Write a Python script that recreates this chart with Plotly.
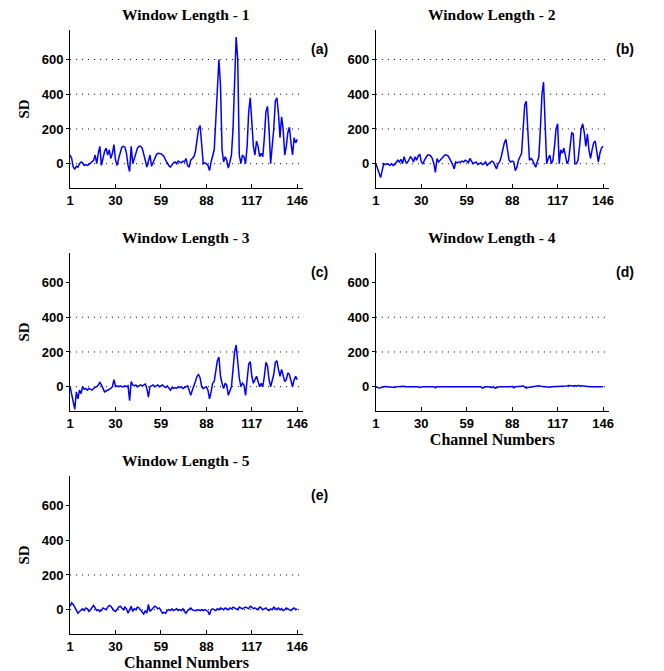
import plotly.graph_objects as go
from plotly.subplots import make_subplots

channels = list(range(1, 147))

sd_w1 = [
    50, 30, -20, -30, -15, -20, 0, 10, 5, -10,
    -5, -10, -5, 5, 15, 20, 50, 0, 60, 100,
    -10, 40, 70, 90, 50, 80, 30, 60, 110, 20,
    -10, 30, 70, 95, 100, 95, 60, -10, -45, 100,
    0, 30, 70, 90, 100, 100, 90, 60, 20, -20,
    10, 50, -15, 10, 35, 50, 60, 60, 58, 50,
    40, 20, 0, -10, -20, -5, 5, 10, 0, 15,
    10, 5, 15, 10, 30, -10, -20, 20, 30, 40,
    70, 150, 200, 220, 100, 0, 5, 0, -10, -40,
    10, 40, 80, 250, 450, 600, 450, 80, 10, 40,
    20, -25, 10, 50, 200, 500, 730, 600, 50, 0,
    50, 40, 0, 100, 300, 380, 250, 100, 50, 130,
    100, 40, 60, 40, 150, 300, 330, 200, 0, 100,
    200, 360, 380, 290, 150, 270, 200, 50, 100, 180,
    210, 120, 50, 150, 120, 140,
]

sd_w2 = [
    0, -30, -60, -80, -40, 0, -5, 0, -5, -10,
    0, -10, -5, 10, 20, 10, 25, 0, 40, 10,
    5, 20, 40, 30, 10, 40, 20, 45, 55, 10,
    0, 20, 40, 50, 50, 45, 30, 0, -50, 30,
    10, 20, 35, 45, 50, 50, 45, 30, 15, -5,
    -30, 10, 5, 10, 10, 15, 10, 20, 15, 5,
    30, 10, 0, 5, 10, -5, 0, 5, -5, 0,
    10, -10, 0, 5, 15, 10, -10, -30, 0, 10,
    40, 80, 120, 140, 80, 20, 10, 15, 10, -40,
    -20, 20, 40, 60, 200, 340, 360, 200, 20, 30,
    20, 0, -20, 10, 40, 200, 400, 470, 200, 0,
    30, 50, 0, 20, 100, 200, 230, 0, 80, 60,
    90, 40, 0, 20, 100, 180, 170, 0, 0, 20,
    100, 200, 230, 180, 100, 170, 80, 30, 80, 120,
    130, 70, 10, 60, 90, 100,
]

sd_w3 = [
    0, -50, -100, -130, -30, -70, -20, -40, 0, -15,
    -10, -20, -10, -15, -20, -10, -5, 0, 10, 25,
    10, -10, -30, -25, -20, -15, -10, 0, 40, 0,
    5, 0, 5, 0, 0, 5, 0, 5, -80, 30,
    10, 5, 10, 0, 5, 10, 5, 10, 15, -10,
    -60, 0, 5, 10, 0, 5, 10, 0, 5, 10,
    0, -5, 5, -10, -20, -5, -10, -5, -10, 0,
    -5, 0, -10, -5, 0, 5, -20, -50, -20, 0,
    30, 60, 70, 50, 0, -10, -5, 0, -20, -70,
    -30, 20, 30, 100, 150, 170, 60, 20, -10, 20,
    10, -50, -20, 0, 100, 200, 240, 120, 50, 0,
    20, 10, -50, 40, 130, 145, 60, 20, 40, 60,
    30, 0, 20, 0, 60, 140, 120, 40, 0, 30,
    70, 140, 150, 100, 60, 100, 60, 30, 40, 80,
    70, 30, 0, 40, 60, 40,
]

sd_w4 = [
    0, -5, -8, -6, -2, 0, 1, 0, 0, -2,
    0, 0, -4, 0, 1, 0, 0, 0, 2, 0,
    0, -2, 0, 0, 1, 0, 0, -1, -4, 0,
    0, 0, 1, 0, 0, 0, -1, 0, -6, 0,
    0, 0, 0, 1, 0, 0, 0, 0, 0, 0,
    -3, 0, 0, 0, 0, 0, 1, 0, 0, 0,
    0, -3, 0, 0, 0, 1, 0, 0, -8, -3,
    0, 0, 0, -2, -5, 0, -8, -4, 0, 0,
    0, 0, 0, -2, -4, 0, 0, 2, -6, 0,
    0, 0, 3, 2, 5, 0, -8, -4, -2, 0,
    0, 2, 3, 5, 6, 3, 2, 0, 0, -2,
    0, -3, 0, 0, 0, 1, 0, 0, 0, 2,
    0, 2, 4, 7, 6, 2, 4, 6, 3, 7,
    6, 2, 1, 0, 0, 0, 1, 0, 0, 0,
    0, 0, 0, 0, 0, 0,
]

sd_w5 = [
    20, 40, 30, 10, -5, -20, -10, 0, 5, -5,
    10, 5, -10, 0, 15, 25, 10, -5, 0, -10,
    -5, 10, 5, 0, 15, 25, 20, 5, -5, -10,
    5, 15, 20, 10, 0, 15, 5, -20, 0, 20,
    -10, 5, 0, 15, 10, 0, -15, -25, -5, -20,
    30, -10, 0, 10, 20, 15, 5, 10, -10, -20,
    -15, -20, -5, 0, -5, 5, -5, 0, 5, -5,
    0, -5, 5, -10, -20, -5, 0, 10, 0, -5,
    -5, -5, 0, -5, 0, -5, 0, -5, -10, -30,
    0, 5, 0, -5, 5, 0, 10, 5, 0, 10,
    5, 0, 10, 5, 15, 10, 5, 0, 15, 10,
    5, 10, 15, 10, 5, 20, 15, 5, 10, 5,
    0, 15, 10, 0, 5, 10, 0, -5, 5, 0,
    15, 5, 0, 10, 0, 5, -5, 0, 10, 5,
    0, -5, 5, 10, 0, 5,
]

series = [sd_w1, sd_w2, sd_w3, sd_w4, sd_w5]
titles = ["Window Length - 1", "Window Length - 2", "Window Length - 3",
          "Window Length - 4", "Window Length - 5"]
panel_labels = ["(a)", "(b)", "(c)", "(d)", "(e)"]
x_tick_vals = [1, 30, 59, 88, 117, 146]
y_tick_vals = [0, 200, 400, 600]
grid_levels = [[0, 200, 400, 600], [0, 200, 400, 600], [0, 200, 400],
               [0, 200, 400], [0, 200]]

W, H = 664, 671
col_px = [(67, 303), (377, 613)]
row_px = [(30, 188), (253, 411), (476, 634)]
positions = [(0, 0), (0, 1), (1, 0), (1, 1), (2, 0)]

fig = make_subplots(rows=3, cols=2,
                    specs=[[{}, {}], [{}, {}], [{}, None]])

tick_font = dict(family="Liberation Sans", size=13, color="black", weight="bold")
serif = "Liberation Serif"

for i, (vals, (r, c)) in enumerate(zip(series, positions)):
    n = i + 1
    sfx = "" if n == 1 else str(n)
    fig.add_trace(go.Scatter(x=channels, y=vals, mode="lines",
                             line=dict(color="#0000ff", width=1.5),
                             hoverinfo="skip"), row=r + 1, col=c + 1)
    x0, x1 = col_px[c]
    y0, y1 = row_px[r]
    xd = [x0 / W, x1 / W]
    yd = [1 - y1 / H, 1 - y0 / H]
    xa = dict(domain=xd, range=[1, 149.6], tickvals=x_tick_vals,
              ticktext=[str(v) for v in x_tick_vals],
              showline=True, linecolor="black", linewidth=1, mirror=False,
              showgrid=False, zeroline=False, ticks="inside", ticklen=4,
              tickcolor="black", tickfont=tick_font)
    if n in (4, 5):
        xa["title"] = dict(text="Channel Numbers",
                           font=dict(family=serif, size=16, color="black",
                                     weight="bold"),
                           standoff=1)
    ya = dict(domain=yd, range=[-140, 770], tickvals=y_tick_vals,
              showline=True, linecolor="black", linewidth=1, mirror=False,
              showgrid=False, zeroline=False, ticks="outside", ticklen=3,
              tickcolor="black", tickfont=tick_font)
    if c == 0:
        ya["title"] = dict(text="SD", font=dict(family=serif, size=15,
                                                color="black", weight="bold"),
                           standoff=8)
    fig.layout["xaxis" + sfx].update(xa)
    fig.layout["yaxis" + sfx].update(ya)

    for g in grid_levels[i]:
        fig.add_shape(type="line", xref=f"x{sfx} domain", yref=f"y{sfx}",
                      x0=0, x1=0.985, y0=g, y1=g, layer="below",
                      line=dict(color="black", width=1, dash="1px,5px"))

    fig.add_annotation(text=titles[i], xref="paper", yref="paper",
                       x=(x0 + x1) / 2 / W, y=1 - (y0 - 16) / H,
                       xanchor="center", yanchor="middle", showarrow=False,
                       font=dict(family=serif, size=15.5, color="black",
                                 weight="bold"))
    fig.add_annotation(text=panel_labels[i], xref=f"x{sfx} domain", yref=f"y{sfx}",
                       x=1 + 17 / (x1 - x0), y=663, xanchor="center",
                       yanchor="middle", showarrow=False,
                       font=dict(family="Liberation Sans", size=14,
                                 color="black", weight="bold"))

fig.update_layout(width=W, height=H, margin=dict(l=0, r=0, t=0, b=0),
                  plot_bgcolor="white", paper_bgcolor="white",
                  showlegend=False, hovermode=False)

fig.write_html("out.html", config={"displayModeBar": False},
               post_script="document.body.style.margin='0px';"
                           "document.body.style.overflow='hidden';")
